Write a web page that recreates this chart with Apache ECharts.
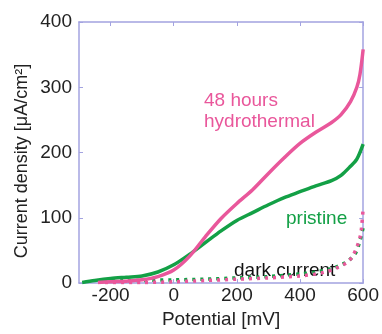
<!DOCTYPE html>
<html>
<head>
<meta charset="utf-8">
<script src="https://cdn.jsdelivr.net/npm/echarts@6/dist/echarts.min.js"></script>
<style>
  html, body { margin: 0; padding: 0; background: #fff; }
  #chart { width: 382px; height: 334px; }
</style>
</head>
<body>
<div id="chart"></div>
<script>
// potential in mV, current density in uA/cm2
const hydroV = [-240, -200, -150, -100, -50, 0, 50, 100, 150, 200, 250, 300, 350, 400, 450, 500, 530, 560, 580, 590, 600];
const hydroJ = [1, 2, 3, 5, 10, 20, 41, 71, 99, 122, 143, 168, 192, 214, 231, 246, 258, 278, 300, 320, 358];

const pristineV = [-290, -250, -200, -150, -100, -50, 0, 50, 100, 150, 200, 250, 300, 350, 400, 450, 500, 530, 560, 580, 600];
const pristineJ = [1, 4, 7, 9, 11, 17, 28, 44, 62, 80, 96, 108, 120, 131, 140, 149, 157, 165, 179, 190, 213];

const darkGreenV = [-220, -100, 0, 100, 200, 300, 400, 450, 500, 530, 550, 570, 580, 590, 600];
const darkGreenJ = [3, 4, 5, 6, 8, 10, 14, 17, 22, 28, 33, 42, 50, 65, 85];

const darkPinkV = [-230, -100, 0, 100, 200, 300, 400, 450, 480, 520, 550, 565, 580, 590, 595, 600];
const darkPinkJ = [1, 1, 2, 4, 6, 8, 11, 14, 17, 24, 32, 40, 55, 70, 85, 115];

const xTicks = [-200, 0, 200, 400, 600];

const pink = '#e9579b';
const green = '#13a046';
const axisColor = '#a3a3e0';
const font = 'Liberation Sans, Arial, sans-serif';

const pairs = (xs, ys) => xs.map((x, i) => [x, ys[i]]);

const chart = echarts.init(document.getElementById('chart'));

const tickLabel = { color: '#222', fontSize: 19, fontFamily: font };
const axisLine = { show: true, onZero: false, lineStyle: { color: axisColor, width: 1.5 } };
const xTick = { show: true, inside: true, length: 4, customValues: xTicks, lineStyle: { color: axisColor } };
const yTick = { show: true, inside: true, length: 4, lineStyle: { color: axisColor } };

const option = {
  animation: false,
  grid: { left: 79, right: 18, top: 22, bottom: 38 },
  xAxis: [
    {
      type: 'value', min: -300, max: 600,
      position: 'bottom',
      name: 'Potential [mV]', nameLocation: 'middle', nameGap: 19,
      nameTextStyle: { ...tickLabel },
      axisLine, axisTick: xTick,
      axisLabel: { ...tickLabel, margin: 3, customValues: xTicks },
      splitLine: { show: false },
    },
    {
      type: 'value', min: -300, max: 600,
      position: 'top',
      axisLine, axisTick: xTick,
      axisLabel: { show: false },
      splitLine: { show: false },
    },
  ],
  yAxis: [
    {
      type: 'value', min: 0, max: 400, interval: 100,
      position: 'left',
      axisLine, axisTick: yTick,
      axisLabel: { ...tickLabel, margin: 7 },
      splitLine: { show: false },
    },
    {
      type: 'value', min: 0, max: 400, interval: 100,
      position: 'right',
      axisLine, axisTick: yTick,
      axisLabel: { show: false },
      splitLine: { show: false },
    },
  ],
  series: [
    {
      name: 'dark pristine', type: 'line', smooth: 0.3, symbol: 'none',
      data: pairs(darkGreenV, darkGreenJ),
      lineStyle: { color: green, width: 3.5, type: [3, 5] },
    },
    {
      name: 'dark hydrothermal', type: 'line', smooth: 0.3, symbol: 'none',
      data: pairs(darkPinkV, darkPinkJ),
      lineStyle: { color: pink, width: 3.5, type: [3, 5], dashOffset: 4 },
    },
    {
      name: 'pristine', type: 'line', smooth: 0.3, symbol: 'none',
      data: pairs(pristineV, pristineJ),
      lineStyle: { color: green, width: 3.5 },
    },
    {
      name: '48 hours hydrothermal', type: 'line', smooth: 0.3, symbol: 'none',
      data: pairs(hydroV, hydroJ),
      lineStyle: { color: pink, width: 3.5 },
    },
  ],
  graphic: [
    {
      type: 'text', x: 22, y: 161, rotation: Math.PI / 2,
      style: { text: 'Current density [μA/cm²]', fill: '#222', font: '18px ' + font, align: 'center', verticalAlign: 'middle' },
    },
    { type: 'text', left: 204, top: 90, style: { text: '48 hours\nhydrothermal', fill: pink, font: '19px ' + font, lineHeight: 21 } },
    { type: 'text', left: 286, top: 209, style: { text: 'pristine', fill: green, font: '19px ' + font } },
    { type: 'text', left: 234, top: 261, style: { text: 'dark current', fill: '#111', font: '19px ' + font } },
  ],
};

chart.setOption(option);
</script>
</body>
</html>
